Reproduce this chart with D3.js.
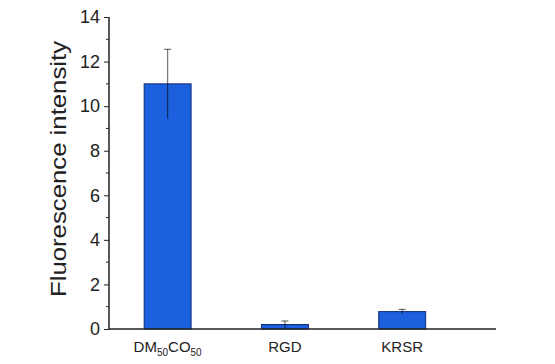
<!DOCTYPE html>
<html>
<head>
<meta charset="utf-8">
<script src="https://cdn.jsdelivr.net/npm/d3@7"></script>
<style>
  body { margin: 0; background: #fff; }
  text { font-family: Arial, "Liberation Sans", sans-serif; fill: #222; }
</style>
</head>
<body>
<div id="chart"></div>
<script>
// data
var categories = ["DM50CO50", "RGD", "KRSR"];
var values = [11.0, 0.2, 0.78];
var errors = [1.55, 0.16, 0.1];
var yTicks = [0, 2, 4, 6, 8, 10, 12, 14];

var w = 555, h = 364;

var svg = d3.select("#chart").append("svg")
	.attr("width", w)
	.attr("height", h);

// scales: categories sit at 1,2,3 on a linear axis
var x = d3.scaleLinear()
	.domain([0.5, 3.8])
	.range([109, 496]);

var y = d3.scaleLinear()
	.domain([0, 14])
	.range([329, 17]);

var barW = (x(2) - x(1)) * 0.4;

// bars
svg.selectAll("rect.bar")
	.data(values)
	.enter().append("rect")
	.attr("class", "bar")
	.attr("x", function (d, i) { return x(i + 1) - barW / 2; })
	.attr("y", function (d) { return y(d); })
	.attr("width", barW)
	.attr("height", function (d) { return y(0) - y(d); })
	.attr("fill", "#1c60dd")
	.attr("stroke", "#0b2a78")
	.attr("stroke-width", 1);

// error bars (semi-transparent so they look grey on white, dark on the bar)
var eb = svg.selectAll("g.err")
	.data(values)
	.enter().append("g")
	.attr("class", "err")
	.attr("stroke", "#000")
	.attr("stroke-opacity", 0.55)
	.attr("stroke-width", 1.2);

eb.append("line")
	.attr("x1", function (d, i) { return x(i + 1); })
	.attr("x2", function (d, i) { return x(i + 1); })
	.attr("y1", function (d, i) { return y(Math.max(0, d - errors[i])); })
	.attr("y2", function (d, i) { return y(d + errors[i]); });

eb.append("line")
	.attr("x1", function (d, i) { return x(i + 1) - 3.5; })
	.attr("x2", function (d, i) { return x(i + 1) + 3.5; })
	.attr("y1", function (d, i) { return y(d + errors[i]); })
	.attr("y2", function (d, i) { return y(d + errors[i]); });

// y axis with minor ticks
var yAxis = d3.axisLeft(y)
	.tickValues(yTicks)
	.tickSize(5)
	.tickPadding(4)
	.tickFormat(d3.format("d"));

var gy = svg.append("g")
	.attr("transform", "translate(109,0)")
	.call(yAxis);
gy.select(".domain").attr("stroke", "#222").attr("stroke-width", 1.5)
	.attr("d", "M0," + y(14) + "V" + y(0));
gy.selectAll(".tick line").attr("stroke", "#222");
gy.selectAll(".tick text").style("font-size", "18px").attr("fill", "#222");

var minor = d3.range(1, 14, 2);
gy.selectAll("line.minor")
	.data(minor)
	.enter().append("line")
	.attr("class", "minor")
	.attr("x1", -3).attr("x2", 0)
	.attr("y1", function (d) { return y(d); })
	.attr("y2", function (d) { return y(d); })
	.attr("stroke", "#222");

// x axis line
svg.append("line")
	.attr("x1", x(0.5)).attr("x2", x(3.8))
	.attr("y1", y(0)).attr("y2", y(0))
	.attr("stroke", "#222")
	.attr("stroke-width", 1.5);

// x labels
var xl = svg.selectAll("text.xlab")
	.data(categories)
	.enter().append("text")
	.attr("class", "xlab")
	.attr("x", function (d, i) { return x(i + 1); })
	.attr("y", 352)
	.attr("text-anchor", "middle")
	.style("font-size", "15px");

xl.each(function (d) {
	var t = d3.select(this);
	if (d === "DM50CO50") {
		t.append("tspan").text("DM");
		t.append("tspan").text("50").attr("dy", 4).style("font-size", "10px");
		t.append("tspan").text("CO").attr("dy", -4);
		t.append("tspan").text("50").attr("dy", 4).style("font-size", "10px");
	} else {
		t.text(d);
	}
});

// y label
svg.append("text")
	.attr("transform", "translate(66,169) rotate(-90)")
	.attr("text-anchor", "middle")
	.attr("textLength", 256)
	.attr("lengthAdjust", "spacingAndGlyphs")
	.style("font-size", "22px")
	.text("Fluorescence intensity");
</script>
</body>
</html>
